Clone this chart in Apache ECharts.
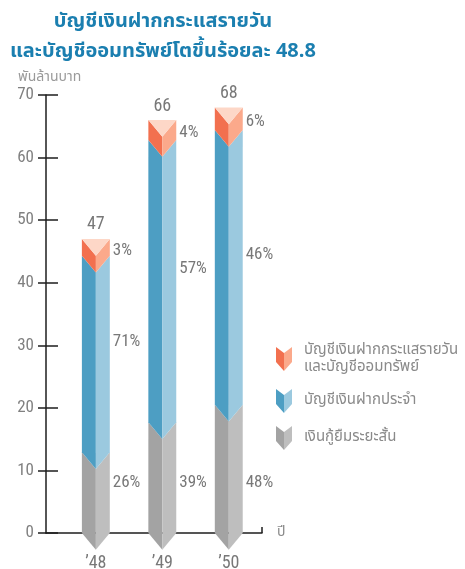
<!DOCTYPE html>
<html>
<head>
<meta charset="utf-8">
<script src="https://cdn.jsdelivr.net/npm/echarts@6/dist/echarts.min.js"></script>
<style>
html,body{margin:0;padding:0;background:#fff;}
#chart{width:465px;height:569px;}
</style>
</head>
<body>
<div id="chart"></div>
<script>
// ---- data ----
const categories = ['\u201948', '\u201949', '\u201950'];
const totals = [47, 66, 68];
const borrowVals = [12.9, 17.7, 20.5];   // เงินกู้ยืมระยะสั้น (grey)
const fixedVals = [31.4, 45.1, 43.9];    // บัญชีเงินฝากประจำ (blue)
const dailyVals = [2.7, 3.2, 3.6];       // บัญชีเงินฝากกระแสรายวันและบัญชีออมทรัพย์ (orange)
const borrowPct = [26, 39, 48];
const fixedPct = [71, 57, 46];
const dailyPct = [3, 4, 6];
const seriesNames = ['บัญชีเงินฝากกระแสรายวัน\nและบัญชีออมทรัพย์', 'บัญชีเงินฝากประจำ', 'เงินกู้ยืมระยะสั้น'];

// ---- styles ----
const NUM_FONT = "'Liberation Sans Narrow', 'Roboto Condensed', 'Roboto', sans-serif";
const THAI_FONT = "'Noto Sans Thai', 'Noto Sans', 'DejaVu Sans', sans-serif";
const palette = {
  orange: { dark: '#f2704f', light: '#fba98b', cap: '#fdd7c7' },
  blue: { dark: '#4d9ec3', light: '#9bc9df' },
  grey: { dark: '#a3a3a3', light: '#bebebe' }
};
const BAR_W = 0.42;

function split(c) {
  return { type: 'linear', x: 0, y: 0, x2: 1, y2: 0,
    colorStops: [{offset: 0, color: c.dark}, {offset: 0.5, color: c.dark},
                 {offset: 0.5, color: c.light}, {offset: 1, color: c.light}] };
}

function makeRender(colors, kind) {
  return function (params, api) {
    const x = api.value(0), lo = api.value(1), hi = api.value(2);
    const pct = api.value(3), total = api.value(4);
    const pLo = api.coord([x, lo]), pHi = api.coord([x, hi]);
    const w = api.size([BAR_W, 0])[0];
    const half = w / 2, d = half * 1.2;
    const xc = pLo[0], xl = xc - half, xr = xc + half;
    const yl = pLo[1], yh = pHi[1];
    const children = [
      { type: 'polygon', shape: { points: [[xl, yh], [xc, yh + d], [xc, yl + d], [xl, yl]] },
        style: { fill: colors.dark } },
      { type: 'polygon', shape: { points: [[xc, yh + d], [xr, yh], [xr, yl], [xc, yl + d]] },
        style: { fill: colors.light } }
    ];
    let labelY;
    if (kind === 'top') {
      children.push({ type: 'polygon', shape: { points: [[xl, yh], [xr, yh], [xc, yh + d]] },
        style: { fill: colors.cap } });
      children.push({ type: 'text', style: { text: String(total), x: xc, y: yh - 5,
        align: 'center', verticalAlign: 'bottom', fill: '#787878', fontSize: 18, fontFamily: NUM_FONT } });
      labelY = (yl + yh) / 2 + 3;
    } else if (kind === 'mid') {
      labelY = api.coord([x, (lo + hi) / 2 + 2])[1];
    } else {
      labelY = api.coord([x, 8])[1];
    }
    children.push({ type: 'text', style: { text: pct + '%', x: xr + 3, y: labelY,
      align: 'left', verticalAlign: 'middle', fill: '#787878', fontSize: 17, fontFamily: NUM_FONT } });
    return { type: 'group', children: children };
  };
}

const greyData = categories.map((c, i) => [i, 0, borrowVals[i], borrowPct[i], totals[i]]);
const blueData = categories.map((c, i) => [i, borrowVals[i], borrowVals[i] + fixedVals[i], fixedPct[i], totals[i]]);
const orangeData = categories.map((c, i) => [i, borrowVals[i] + fixedVals[i], borrowVals[i] + fixedVals[i] + dailyVals[i], dailyPct[i], totals[i]]);

const axisColor = '#1e1e1e';
const option = {
  animation: false,
  backgroundColor: '#ffffff',
  title: [
    { text: 'บัญชีเงินฝากกระแสรายวัน\nและบัญชีออมทรัพย์โตขึ้นร้อยละ 48.8', left: 158, top: 3, textAlign: 'center',
      textStyle: { fontSize: 20, fontWeight: 'bold', color: '#1b7fb0', lineHeight: 30, fontFamily: THAI_FONT } },
    { text: 'พันล้านบาท', left: 13, top: 66,
      textStyle: { fontSize: 14, fontWeight: 'normal', color: '#9a9a9a', fontFamily: THAI_FONT } }
  ],
  legend: {
    orient: 'vertical', left: 271, top: 337, itemWidth: 16, itemHeight: 24, itemGap: 13,
    icon: 'path://M0,0 L8,6 L16,0 L16,15 L8,24 L0,15 Z',
    selectedMode: false,
    textStyle: { color: '#8a8a8a', fontSize: 15, lineHeight: 17, fontFamily: THAI_FONT, padding: [0, 0, 0, 7] },
    data: [
      { name: seriesNames[0], itemStyle: { color: split(palette.orange) } },
      { name: seriesNames[1], itemStyle: { color: split(palette.blue) } },
      { name: seriesNames[2], itemStyle: { color: split(palette.grey) } }
    ]
  },
  grid: { left: 46, top: 95, right: 203, bottom: 36, outerBoundsMode: 'none', containLabel: false },
  xAxis: {
    type: 'value', min: -0.75, max: 2.5,
    name: 'ปี', nameLocation: 'end', nameGap: 15,
    nameTextStyle: { color: '#888', fontSize: 14, fontFamily: THAI_FONT, padding: [0, 0, 8, 0] },
    axisLine: { show: true, onZero: false, lineStyle: { color: axisColor, width: 1.5 } },
    axisTick: { show: true, inside: true, length: 6, customValues: [2.5], lineStyle: { color: axisColor, width: 1.5 } },
    axisLabel: { show: true, customValues: [0, 1, 2], margin: 21,
      formatter: v => categories[Math.round(v)] || '',
      color: '#787878', fontSize: 18, fontFamily: NUM_FONT },
    splitLine: { show: false }
  },
  yAxis: [
    { type: 'value', min: 0, max: 70, interval: 10, position: 'left',
      axisLine: { show: true, onZero: false, lineStyle: { color: axisColor, width: 1.5 } },
      axisTick: { show: true, length: 8, lineStyle: { color: axisColor, width: 1.5 } },
      axisLabel: { color: '#808080', fontSize: 17, margin: 12, fontFamily: NUM_FONT },
      splitLine: { show: false } },
    { type: 'value', min: 0, max: 70, interval: 10, position: 'left',
      axisLine: { show: false, onZero: false },
      axisTick: { show: true, inside: true, length: 12, lineStyle: { color: axisColor, width: 1.5 } },
      axisLabel: { show: false },
      splitLine: { show: false } }
  ],
  series: [
    { type: 'custom', name: seriesNames[0], renderItem: makeRender(palette.orange, 'top'), data: orangeData,
      itemStyle: { color: split(palette.orange) }, z: 5 },
    { type: 'custom', name: seriesNames[1], renderItem: makeRender(palette.blue, 'mid'), data: blueData,
      itemStyle: { color: split(palette.blue) }, z: 4 },
    { type: 'custom', name: seriesNames[2], renderItem: makeRender(palette.grey, 'bottom'), data: greyData,
      itemStyle: { color: split(palette.grey) }, z: 3 }
  ]
};
const chart = echarts.init(document.getElementById('chart'), null, { renderer: 'canvas' });
chart.setOption(option);
</script>
</body>
</html>
